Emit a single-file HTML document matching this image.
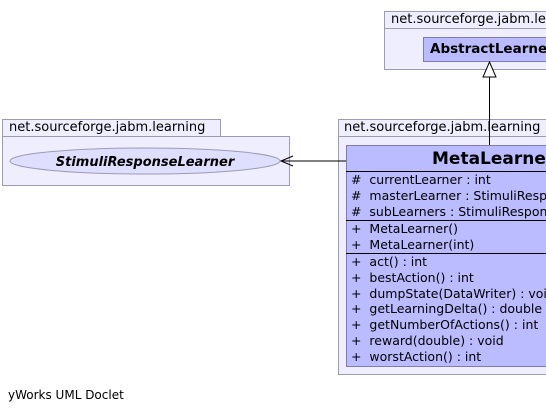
<!DOCTYPE html>
<html><head><style>
html,body{margin:0;width:546px;height:412px;overflow:hidden}
body{background:#fff;position:relative;font-family:"DejaVu Sans","Liberation Sans",sans-serif;font-size:12px;color:#000}
.a{position:absolute;box-sizing:border-box}
.pk{background:#eeeeff;border:1px solid #9c9cb4}
.t{position:absolute;white-space:nowrap;line-height:16px;overflow:hidden}
</style></head><body>
<div class="a pk" style="left:384px;top:11px;width:162px;height:18px;border-right:none"></div>
<div class="a pk" style="left:384px;top:28px;width:162px;height:42px;border-right:none"></div>
<div class="t" style="left:391px;top:12px;font-size:13px;width:155px">net.sourceforge.jabm.learning</div>
<div class="a" style="left:423px;top:37px;width:123px;height:25px;background:#bbbbff;border:1px solid #7d7db4;border-right:none"></div>
<div class="t" style="left:430px;top:41px;font-weight:bold;font-size:13.5px;width:116px">AbstractLearner</div>

<div class="a pk" style="left:2px;top:119px;width:219px;height:18px"></div>
<div class="a pk" style="left:2px;top:136px;width:288px;height:50px"></div>
<div class="t" style="left:9px;top:120px;font-size:13px">net.sourceforge.jabm.learning</div>

<div class="a pk" style="left:338px;top:119px;width:208px;height:18px;border-right:none"></div>
<div class="a pk" style="left:338px;top:136px;width:208px;height:239px;border-right:none"></div>
<div class="t" style="left:344px;top:120px;font-size:13px">net.sourceforge.jabm.learning</div>

<div class="a" style="left:346px;top:145px;width:200px;height:222px;background:#bbbbff;border:1px solid #7d7db4;border-right:none"></div>
<div class="t" style="left:432px;top:148px;font-weight:bold;font-size:17px;line-height:22px;width:114px">MetaLearner</div>
<div class="a" style="left:346px;top:171px;width:200px;height:1px;background:#000"></div>
<div class="a" style="left:346px;top:220px;width:200px;height:1px;background:#000"></div>
<div class="a" style="left:346px;top:253px;width:200px;height:1px;background:#000"></div>
<div class="t" style="left:351px;top:172px;line-height:15.8px;font-size:12.5px;width:195px">
# &nbsp;currentLearner : int<br># &nbsp;masterLearner : StimuliResponseLearner<br># &nbsp;subLearners : StimuliResponseLearner[]</div>
<div class="t" style="left:351px;top:221px;line-height:15.8px;font-size:12.5px;width:195px">
+ &nbsp;MetaLearner()<br>+ &nbsp;MetaLearner(int)</div>
<div class="t" style="left:351px;top:254px;line-height:15.8px;font-size:12.5px;width:195px">
+ &nbsp;act() : int<br>+ &nbsp;bestAction() : int<br>+ &nbsp;dumpState(DataWriter) : void<br>+ &nbsp;getLearningDelta() : double<br>+ &nbsp;getNumberOfActions() : int<br>+ &nbsp;reward(double) : void<br>+ &nbsp;worstAction() : int</div>

<svg class="a" style="left:0;top:0" width="546" height="412">
<ellipse cx="145" cy="161" rx="135" ry="13" fill="#dedeff" stroke="#9c9cb4"/>
<text x="145" y="166" text-anchor="middle" font-family="DejaVu Sans,sans-serif" font-size="13" font-weight="bold" font-style="italic">StimuliResponseLearner</text>
<line x1="346" y1="161" x2="281" y2="161" stroke="#000"/>
<polyline points="293,156 281,161 293,166" fill="none" stroke="#000"/>
<line x1="489.5" y1="77" x2="489.5" y2="145" stroke="#000"/>
<polygon points="489.5,62 483,77 496,77" fill="#fff" stroke="#000"/>
</svg>
<div class="t" style="left:8px;top:387px;font-size:12px">yWorks UML Doclet</div>
</body></html>
